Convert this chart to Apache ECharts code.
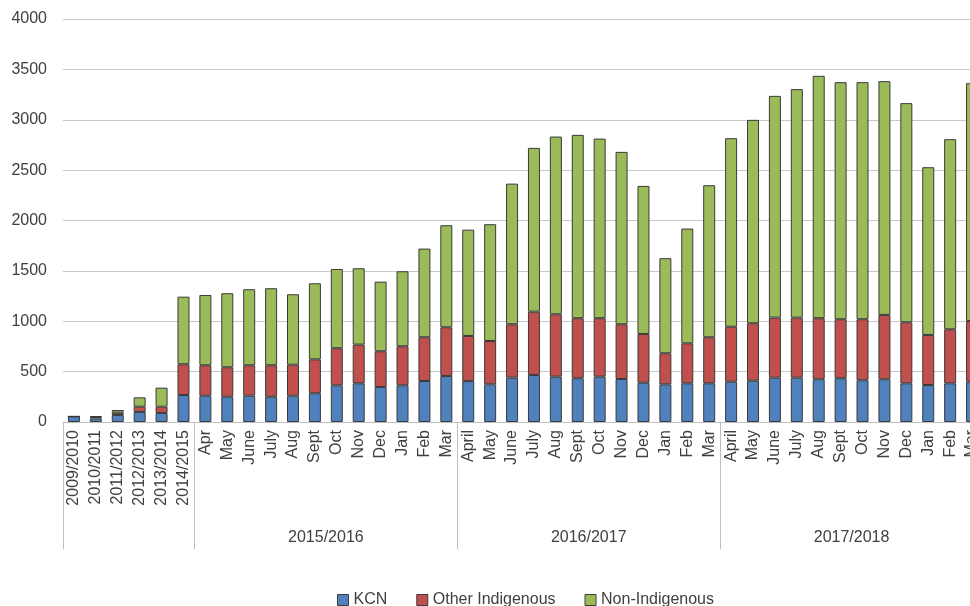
<!DOCTYPE html>
<html lang="en">
<head>
    <meta charset="UTF-8">
    <title>Chart</title>
    <script src="https://cdn.jsdelivr.net/npm/echarts@6/dist/echarts.min.js"></script>
    <style>
        html, body {margin: 0; padding: 0; background: #fff;}
        #main {width: 970px; height: 606px;}
    </style>
</head>
<body>
    <div id="main"></div>
    <script>
    // category labels (years, then months by financial year)
    var categories = ['2009/2010', '2010/2011', '2011/2012', '2012/2013', '2013/2014', '2014/2015',
        'Apr', 'May', 'June', 'July', 'Aug', 'Sept', 'Oct', 'Nov', 'Dec', 'Jan', 'Feb', 'Mar',
        'April', 'May', 'June', 'July', 'Aug', 'Sept', 'Oct', 'Nov', 'Dec', 'Jan', 'Feb', 'Mar',
        'April', 'May', 'June', 'July', 'Aug', 'Sept', 'Oct', 'Nov', 'Dec', 'Jan', 'Feb', 'Mar'];

    // outer label groups and how many categories each spans
    var groupNames = ['', '2015/2016', '2016/2017', '2017/2018'];
    var groupSizes = [6, 12, 12, 12];

    var kcn = [55, 35, 70, 100, 90, 268,
        261, 251, 261, 251, 261, 285, 364, 384, 348, 364, 407, 457,
        406, 374, 440, 467, 450, 434, 450, 427, 390, 374, 384, 384,
        400, 410, 440, 440, 424, 434, 414, 424, 384, 367, 384, 400];
    var otherIndigenous = [0, 15, 22, 52, 62, 305,
        302, 292, 302, 312, 308, 337, 368, 384, 354, 388, 434, 483,
        448, 430, 530, 628, 619, 596, 580, 543, 484, 308, 397, 457,
        546, 570, 596, 596, 606, 586, 606, 639, 606, 497, 536, 603];
    var nonIndigenous = [0, 8, 27, 93, 189, 671,
        698, 735, 755, 765, 699, 755, 787, 758, 691, 744, 880, 1013,
        1055, 1159, 1396, 1626, 1764, 1820, 1783, 1711, 1469, 944, 1139, 1509,
        1871, 2019, 2201, 2268, 2406, 2353, 2353, 2320, 2175, 1665, 1887, 2360];

    var yTicks = {min: 0, max: 4000, step: 500};

    // group boundaries and centres in category units
    var bounds = [0];
    var centres = {};
    groupSizes.forEach(function (s, i) {
        var start = bounds[bounds.length - 1];
        bounds.push(start + s);
        if (groupNames[i]) centres[start + s / 2] = groupNames[i];
    });

    var myChart = echarts.init(document.getElementById('main'));
    var font = '"Liberation Sans", Arial, sans-serif';
    var txt = '#404040';
    var outline = {borderColor: '#3a3a3a', borderWidth: 1};

    function bar(name, color, data) {
        return {
            name: name,
            type: 'bar',
            stack: 'total',
            barWidth: 12,
            xAxisIndex: 0,
            itemStyle: Object.assign({color: color}, outline),
            data: data
        };
    }

    var option = {
        animation: false,
        textStyle: {fontFamily: font},
        // chart is cropped on the right in the original, so the grid runs past the edge
        grid: {left: 63, right: -13, top: 19, bottom: 184, outerBoundsMode: 'none'},
        legend: {
            left: 332,
            top: 587,
            icon: 'rect',
            itemWidth: 11,
            itemHeight: 11,
            itemGap: 29,
            itemStyle: {borderColor: '#3a3a3a', borderWidth: 1},
            textStyle: {fontSize: 16, color: txt, fontFamily: font},
            data: ['KCN', 'Other Indigenous', 'Non-Indigenous']
        },
        xAxis: [
            {
                type: 'category',
                data: categories,
                axisLine: {lineStyle: {color: '#bfbfbf'}},
                axisTick: {show: false},
                axisLabel: {
                    rotate: 90,
                    interval: 0,
                    margin: 8,
                    fontSize: 16,
                    color: txt,
                    fontFamily: font
                }
            },
            {
                type: 'value',
                position: 'bottom',
                min: 0,
                max: bounds[bounds.length - 1],
                axisLine: {show: false},
                splitLine: {show: false},
                axisTick: {
                    show: true,
                    length: 127,
                    customValues: bounds,
                    lineStyle: {color: '#bfbfbf'}
                },
                axisLabel: {
                    show: true,
                    customValues: Object.keys(centres).map(Number),
                    margin: 108,
                    fontSize: 16,
                    color: txt,
                    fontFamily: font,
                    formatter: function (v) { return centres[v] || ''; }
                }
            }
        ],
        yAxis: {
            type: 'value',
            min: yTicks.min,
            max: yTicks.max,
            interval: yTicks.step,
            axisLine: {show: false},
            axisTick: {show: false},
            axisLabel: {
                fontSize: 16, color: txt, margin: 16, fontFamily: font,
                formatter: function (v) { return String(v); }
            },
            splitLine: {lineStyle: {color: '#c8c8c8', width: 1}}
        },
        series: [
            bar('KCN', '#4f81bd', kcn),
            bar('Other Indigenous', '#c0504d', otherIndigenous),
            bar('Non-Indigenous', '#9bbb59', nonIndigenous)
        ]
    };
    myChart.setOption(option);
    </script>
</body>
</html>
